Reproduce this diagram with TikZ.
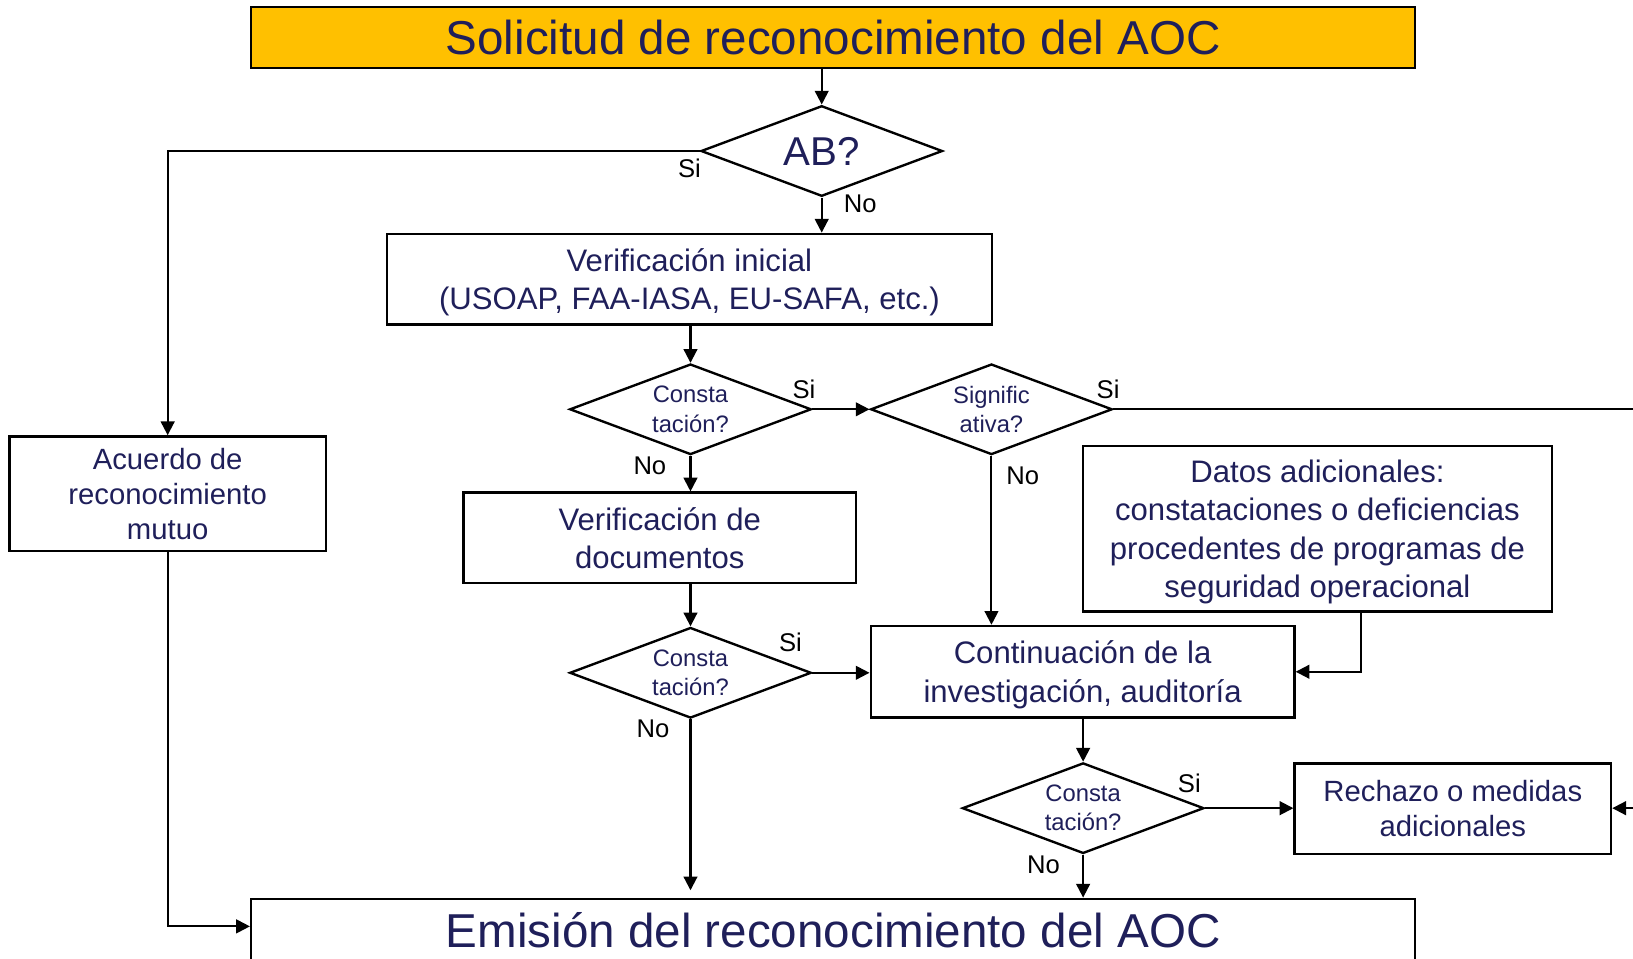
\documentclass[tikz,border=0pt]{standalone}
\usepackage{fontspec}
\setmainfont{Liberation Sans}
\usetikzlibrary{shapes.geometric,arrows.meta}
\definecolor{navytxt}{RGB}{31,31,90}
\definecolor{titlefill}{RGB}{255,192,0}

\begin{document}
\begin{tikzpicture}[x=0.02cm,y=-0.02cm,
    box/.style={draw,line width=1.3pt,text=navytxt,align=center,inner sep=0pt,text depth=0pt},
    decision/.style={diamond,draw,line width=1.3pt,aspect=2.67,minimum width=4.64cm,
        minimum height=1.74cm,inner sep=0pt,text=navytxt,align=center,
        font=\fontsize{13}{15.9}\selectfont},
    flow/.style={-{Triangle[length=7.5pt,width=7.5pt]},line width=1.1pt},
    lbl/.style={font=\fontsize{14}{16}\selectfont}]
        \clip (0,0) rectangle (1568,920);
        % Titolo
        \node[box,fill=titlefill,minimum width=22.36cm,minimum height=1.16cm,
            font=\fontsize{26}{30}\selectfont] (sol) at (800,36)
            {Solicitud de reconocimiento del AOC};
        % Decisioni
        \node[decision,font=\fontsize{22}{26}\selectfont] (ab) at (789,145) {AB?};
        \node[decision] (cons1) at (663,393) {Consta\\tación?};
        \node[decision] (sig) at (952,393) {Signific\\ativa?};
        \node[decision] (cons2) at (663,646) {Consta\\tación?};
        \node[decision] (cons3) at (1040,776) {Consta\\tación?};
        % Caselle
        \node[box,minimum width=11.62cm,minimum height=1.74cm,
            font=\fontsize{17}{20.5}\selectfont] (verini) at (662,268)
            {Verificación inicial\\(USOAP, FAA-IASA, EU-SAFA, etc.)};
        \node[box,minimum width=7.54cm,minimum height=1.74cm,
            font=\fontsize{17}{21}\selectfont] (verdoc) at (633.5,516.5)
            {Verificación de\\documentos};
        \node[box,minimum width=9cm,minimum height=3.18cm,
            font=\fontsize{17}{21}\selectfont] (datos) at (1265,507.5)
            {Datos adicionales:\\constataciones o deficiencias\\procedentes de programas de\\seguridad operacional};
        \node[box,minimum width=8.14cm,minimum height=1.76cm,
            font=\fontsize{17}{21}\selectfont] (cont) at (1039.5,645)
            {Continuación de la\\investigación, auditoría};
        \node[box,minimum width=6.08cm,minimum height=1.74cm,
            font=\fontsize{16}{19.3}\selectfont] (rech) at (1395,776.5)
            {Rechazo o medidas\\adicionales};
        \node[box,minimum width=6.08cm,minimum height=2.2cm,
            font=\fontsize{16}{19}\selectfont] (acu) at (161,474)
            {Acuerdo de\\reconocimiento\\mutuo};
        \node[box,minimum width=22.36cm,minimum height=1.2cm,
            font=\fontsize{26}{30}\selectfont] (emi) at (800,893)
            {Emisión del reconocimiento del AOC};
        % Punti liberi
        \coordinate (sigout) at (1568,393);
        \coordinate (rechin) at (1568,776);
        \coordinate (datbot) at (1307,587);
        % Connettori
        \draw[flow] (ab.north |- sol.south) -- (ab.north);
        \draw[flow] (ab.west) -| (acu.north);
        \draw[flow] (ab.south) -- (ab.south |- verini.north);
        \draw[flow] (verini.south -| cons1.north) -- (cons1.north);
        \draw[flow] (cons1.east) -- (sig.west);
        \draw[line width=1.1pt] (sig.east) -- (sigout);
        \draw[flow] (sig.south) -- (sig.south |- cont.north);
        \draw[flow] (cons1.south) -- (cons1.south |- verdoc.north);
        \draw[flow] (cons2.north |- verdoc.south) -- (cons2.north);
        \draw[flow] (cons2.east) -- (cons2.east -| cont.west);
        \draw[flow,shorten >=4pt] (cons2.south) -- (cons2.south |- emi.north);
        \draw[flow] (datbot) |- (cont.east);
        \draw[flow] (cont.south -| cons3.north) -- (cons3.north);
        \draw[flow] (cons3.east) -- (cons3.east -| rech.west);
        \draw[flow] (rechin) -- (rechin -| rech.east);
        \draw[flow] (cons3.south) -- (cons3.south |- emi.north);
        \draw[flow] (acu.south) |- ([yshift=2pt]emi.west);
        % Etichette
        \node[lbl] (l1) at (662,162) {Si};
        \node[lbl] (l2) at (826,196) {No};
        \node[lbl] (l3) at (772,374) {Si};
        \node[lbl] (l4) at (624,447) {No};
        \node[lbl] (l5) at (1064,374) {Si};
        \node[lbl] (l6) at (982,457) {No};
        \node[lbl] (l7) at (759,617) {Si};
        \node[lbl] (l8) at (627,700) {No};
        \node[lbl] (l9) at (1142,752) {Si};
        \node[lbl] (l10) at (1002,830) {No};
    \end{tikzpicture}
\end{document}
